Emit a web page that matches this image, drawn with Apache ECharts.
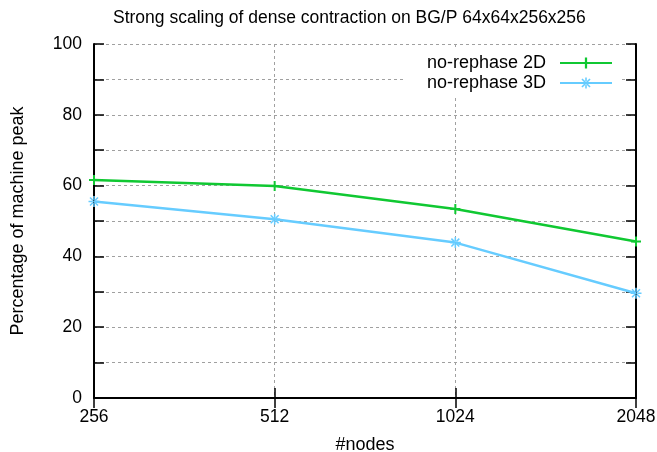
<!DOCTYPE html>
<html>
<head>
<meta charset="utf-8">
<script src="https://cdn.jsdelivr.net/npm/echarts@6/dist/echarts.min.js"></script>
<style>
  html, body { margin: 0; padding: 0; background: #fff; }
  #chart { width: 657px; height: 452px; }
</style>
</head>
<body>
<div id="chart"></div>
<script>
// Node counts on the x axis
const nodes = ['256', '512', '1024', '2048'];
// Percentage of machine peak for each variant
const rephase2D = [61.6, 59.9, 53.4, 44.2];
const rephase3D = [55.5, 50.5, 43.9, 29.6];
const seriesNames = ['no-rephase 2D', 'no-rephase 3D'];

const FONT = 'Liberation Sans, Arial, Helvetica, sans-serif';
const GREEN = '#10c832';
const BLUE = '#66ccff';

// gnuplot-style point glyphs built as thin filled bars
const plusPath = 'path://M-0.2,-1H0.2V-0.2H1V0.2H0.2V1H-0.2V0.2H-1V-0.2H-0.2Z';
const starPath = 'path://M-0.14,-1H0.14V-0.14H1V0.14H0.14V1H-0.14V0.14H-1V-0.14H-0.14Z' +
  'M-0.82,-0.62L0.62,0.82L0.82,0.62L-0.62,-0.82Z' +
  'M-0.62,0.82L0.82,-0.62L0.62,-0.82L-0.82,0.62Z';

const axisLine = { show: true, lineStyle: { color: '#000', width: 2 } };
const tick = { show: true, inside: true, length: 10, lineStyle: { color: '#000', width: 1.5 } };
const dashed = { show: true, lineStyle: { color: '#a0a0a0', width: 1, type: [3, 3] } };

const chart = echarts.init(document.getElementById('chart'), null, { renderer: 'canvas' });
chart.setOption({
  animation: false,
  backgroundColor: '#fff',
  title: {
    text: 'Strong scaling of dense contraction on BG/P 64x64x256x256',
    left: 108,
    top: 4,
    textStyle: { fontFamily: FONT, fontSize: 17.5, fontWeight: 'normal', color: '#000' }
  },
  grid: { left: 94, right: 21, top: 44, bottom: 54, containLabel: false, outerBoundsMode: 'none' },
  legend: {
    orient: 'vertical',
    right: 35,
    top: 49,
    align: 'right',
    itemWidth: 52,
    itemHeight: 14,
    itemGap: 2,
    padding: [5, 9, 3, 22],
    backgroundColor: '#fff',
    textStyle: { fontFamily: FONT, fontSize: 18, color: '#000', padding: [0, 9, 0, 0] },
    data: seriesNames
  },
  xAxis: [
    {
      type: 'category',
      data: nodes,
      boundaryGap: false,
      name: '#nodes',
      nameLocation: 'middle',
      nameGap: 38,
      nameTextStyle: { fontFamily: FONT, fontSize: 18, color: '#000' },
      axisLine: axisLine,
      axisTick: tick,
      axisLabel: { fontFamily: FONT, fontSize: 17.5, color: '#000', margin: 10 },
      splitLine: dashed
    },
    {
      type: 'category',
      data: nodes,
      boundaryGap: false,
      position: 'top',
      axisLine: axisLine,
      axisTick: tick,
      axisLabel: { show: false },
      splitLine: { show: false }
    }
  ],
  yAxis: [
    {
      type: 'value',
      min: 0,
      max: 100,
      interval: 10,
      name: 'Percentage of machine peak',
      nameLocation: 'middle',
      nameGap: 67,
      nameTextStyle: { fontFamily: FONT, fontSize: 18, color: '#000' },
      axisLine: axisLine,
      axisTick: tick,
      axisLabel: {
        fontFamily: FONT, fontSize: 17.5, color: '#000', margin: 12,
        formatter: v => (v % 20 === 0 ? String(v) : '')
      },
      splitLine: dashed
    },
    {
      type: 'value',
      min: 0,
      max: 100,
      interval: 10,
      position: 'right',
      axisLine: axisLine,
      axisTick: tick,
      axisLabel: { show: false },
      splitLine: { show: false }
    }
  ],
  series: [
    {
      name: seriesNames[0],
      type: 'line',
      data: rephase2D,
      symbol: plusPath,
      symbolSize: 10,
      showAllSymbol: true,
      lineStyle: { color: GREEN, width: 2.5 },
      itemStyle: { color: GREEN },
      z: 3
    },
    {
      name: seriesNames[1],
      type: 'line',
      data: rephase3D,
      symbol: starPath,
      symbolSize: 11,
      showAllSymbol: true,
      lineStyle: { color: BLUE, width: 2.5 },
      itemStyle: { color: BLUE },
      z: 3
    }
  ]
});
</script>
</body>
</html>
